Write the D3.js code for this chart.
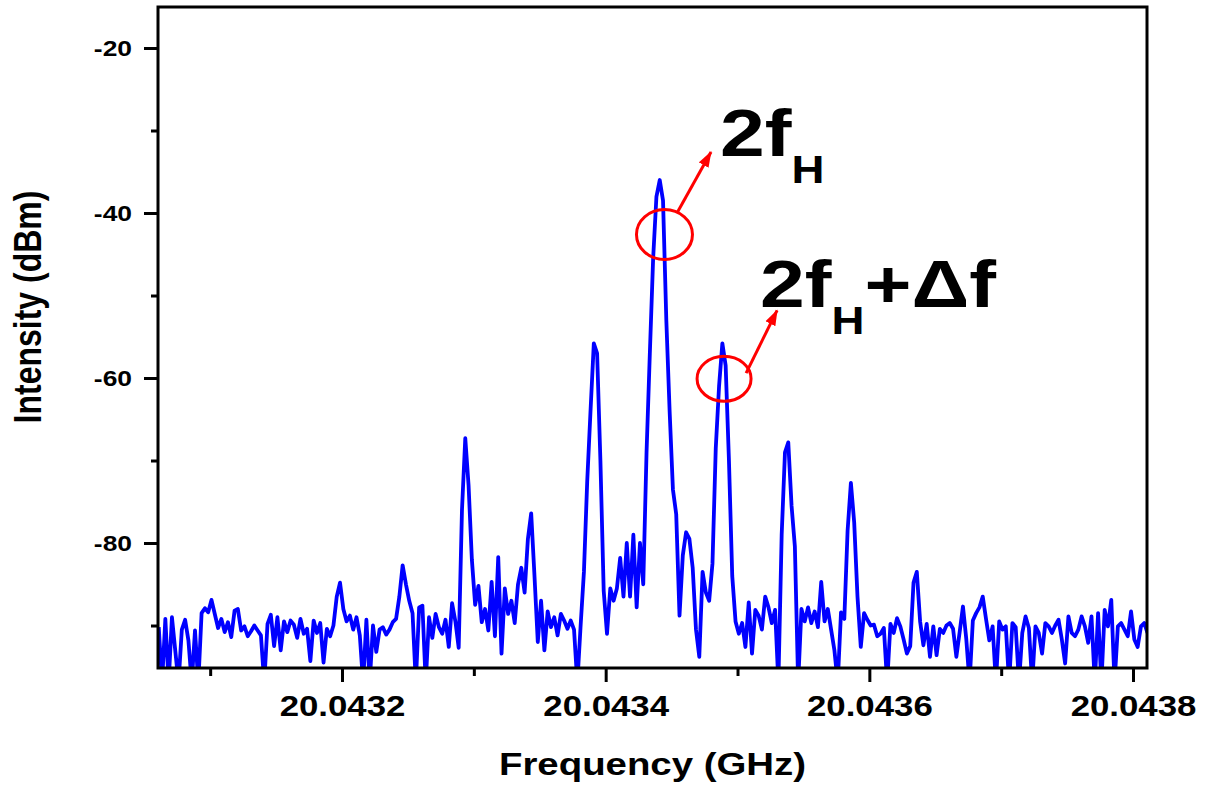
<!DOCTYPE html>
<html lang="en">
  <head>
    <meta charset="UTF-8" />
    <title>spectrum</title>
    <style>
      body {
        margin: 0;
        background: #fff;
      }
      svg {
        display: block;
      }
      text {
        font-family: "Liberation Sans", Arial, sans-serif;
        font-weight: bold;
        fill: #000;
      }
      .tick line {
        stroke: #000;
        stroke-width: 3;
      }
      .trace {
        fill: none;
        stroke: #0000ff;
        stroke-width: 3.8;
        stroke-linejoin: round;
      }
      .note {
        stroke: #ff0000;
        stroke-width: 3;
        fill: none;
      }
    </style>
    <script src="https://cdn.jsdelivr.net/npm/d3@7"></script>
  </head>
  <body>
    <div class="container"></div>
    <script>
      // sweep grid of the analyser (GHz)
      const sweepStart = 20.043061;
      const sweepStep = 0.0000025;

      const intensity = [
        -90.2, -97, -89.2, -97, -89.0, -93.0, -97, -90.5, -89.3, -91.8,
        -97, -90.6, -97, -88.5, -87.9, -88.4, -86.9, -88.6, -90.3, -89.2,
        -90.8, -89.6, -91.4, -88.2, -88.0, -90.6, -90.1, -91.3, -90.7, -90.0,
        -90.6, -91.2, -97, -89.8, -88.7, -92.5, -89.0, -93.0, -89.5, -90.8,
        -89.4, -89.9, -91.5, -89.2, -91.0, -90.4, -94.3, -89.4, -90.9, -89.7,
        -94.5, -90.4, -91.3, -90.0, -86.5, -84.8, -88.0, -89.5, -88.8, -90.5,
        -89.0, -91.2, -97, -89.3, -97, -90.0, -93.2, -90.5, -90.2, -91.1,
        -90.5, -89.6, -89.2, -86.5, -82.7, -85.0, -87.0, -88.5, -97, -87.8,
        -87.6, -97, -89.0, -91.5, -88.6, -90.2, -91.0, -89.3, -92.6, -87.3,
        -89.5, -92.7, -76.0, -67.3, -73.0, -82.0, -87.5, -85.2, -89.6, -88.0,
        -90.6, -84.7, -91.3, -81.7, -93.4, -85.5, -88.6, -87.0, -89.7, -85.0,
        -83.0, -86.0, -79.5, -76.4, -84.0, -92.0, -87.0, -93.0, -88.3, -90.2,
        -89.0, -91.2, -88.6, -89.4, -90.4, -89.4, -90.5, -97, -90.0, -83.5,
        -72.5, -64.0, -55.8, -57.0, -70.0, -85.8, -91.0, -85.5, -87.0, -85.5,
        -81.8, -86.5, -80.0, -86.5, -79.0, -87.8, -80.0, -85.0, -69.0, -57.0,
        -45.5, -38.0, -36.0, -38.5, -53.0, -64.0, -73.5, -76.5, -88.8, -81.5,
        -78.7, -79.5, -83.0, -90.5, -93.8, -83.5, -86.0, -87.0, -82.5, -68.5,
        -61.0, -55.8, -58.5, -70.0, -84.0, -89.5, -91.0, -89.7, -92.6, -87.2,
        -93.4, -88.1, -88.8, -90.5, -86.5, -87.8, -89.7, -88.1, -97, -79.0,
        -69.0, -67.8, -75.5, -80.4, -97, -88.0, -89.5, -87.8, -89.7, -88.3,
        -90.2, -84.7, -89.5, -88.0, -90.5, -93.0, -97, -88.4, -89.2, -78.5,
        -72.7, -77.5, -86.5, -92.6, -88.5, -89.3, -90.0, -89.9, -91.3, -91.0,
        -90.3, -97, -89.8, -90.9, -89.1, -90.1, -91.7, -93.4, -92.5, -84.8,
        -83.5, -89.5, -92.4, -89.8, -93.8, -90.1, -93.6, -90.4, -90.9, -90.0,
        -89.7, -90.4, -93.8, -90.8, -87.7, -91.6, -97, -89.4, -88.5, -87.8,
        -86.5, -89.2, -91.8, -90.1, -97, -89.5, -90.5, -90.1, -97, -89.7,
        -90.2, -97, -90.9, -88.9, -90.3, -97, -90.1, -90.9, -93.4, -89.7,
        -90.1, -90.9, -90.0, -89.3, -91.7, -94.6, -88.9, -90.9, -91.3, -90.5,
        -88.9, -90.1, -92.1, -88.9, -97, -88.5, -97, -88.1, -90.1, -86.9,
        -97, -90.1, -89.7, -90.5, -91.3, -88.3, -91.7, -92.6, -90.1, -89.7,
        -90.9,
      ];

      const xMajorTicks = [20.0432, 20.0434, 20.0436, 20.0438];
      const xMinorTicks = [20.0431, 20.0433, 20.0435, 20.0437];
      const yMajorTicks = [-20, -40, -60, -80];
      const yMinorTicks = [-30, -50, -70, -90];

      // annotations in data coordinates (GHz, dBm)
      const rings = [
        { f: 20.0434446, v: -42.6, rx: 28, ry: 25 },
        { f: 20.0434898, v: -60.1, rx: 27, ry: 22.5 },
      ];
      const arrows = [
        { f0: 20.0434541, v0: -40.0, f1: 20.0434799, v1: -32.6 },
        { f0: 20.0435065, v0: -59.4, f1: 20.04353, v1: -51.8 },
      ];
      const labels = [
        { f: 20.0434867, v: -33.1, main: "2f", sub: "H", tail: "" },
        { f: 20.0435171, v: -51.4, main: "2f", sub: "H", tail: "+\u0394f" },
      ];

      function init() {
        const width = 1209,
          height = 787;
        const left = 158,
          right = 1147,
          top = 7,
          bottom = 668;
        const stretch = 1.2;

        const data = intensity.map((v, i) => ({
          f: sweepStart + i * sweepStep,
          v: v,
        }));

        const x = d3
          .scaleLinear()
          .domain([20.04306043, 20.0438106])
          .range([left, right]);
        const y = d3.scaleLinear().domain([-95.15, -15.03]).range([bottom, top]);

        const svg = d3
          .select(".container")
          .append("svg")
          .attr("width", width)
          .attr("height", height);

        svg
          .append("rect")
          .attr("width", width)
          .attr("height", height)
          .attr("fill", "#fff");

        svg
          .append("defs")
          .append("clipPath")
          .attr("id", "plot-clip")
          .append("rect")
          .attr("x", left)
          .attr("y", top)
          .attr("width", right - left)
          .attr("height", bottom - top);

        const marker = svg
          .select("defs")
          .append("marker")
          .attr("id", "head")
          .attr("markerUnits", "userSpaceOnUse")
          .attr("viewBox", "0 -6 16 12")
          .attr("refX", 15)
          .attr("refY", 0)
          .attr("markerWidth", 16)
          .attr("markerHeight", 12)
          .attr("orient", "auto");
        marker.append("path").attr("d", "M0,-5.5L16,0L0,5.5Z").attr("fill", "#ff0000");

        // axes
        const xAxis = svg
          .append("g")
          .attr("transform", "translate(0," + bottom + ")")
          .call(
            d3
              .axisBottom(x)
              .tickValues(xMajorTicks)
              .tickSize(14)
              .tickPadding(13)
              .tickFormat(d3.format(".4f"))
          );
        xAxis.select(".domain").remove();
        xAxis
          .selectAll("text")
          .style("font-size", "29px")
          .attr("transform", "scale(" + stretch + ",1)");

        const xMinor = svg
          .append("g")
          .attr("transform", "translate(0," + bottom + ")")
          .call(d3.axisBottom(x).tickValues(xMinorTicks).tickSize(8).tickFormat(""));
        xMinor.select(".domain").remove();

        const yAxis = svg
          .append("g")
          .attr("transform", "translate(" + left + ",0)")
          .call(
            d3
              .axisLeft(y)
              .tickValues(yMajorTicks)
              .tickSize(14)
              .tickFormat((d) => String(d))
          );
        yAxis.select(".domain").remove();
        yAxis
          .selectAll("text")
          .style("font-size", "22px")
          .attr("x", -26 / stretch)
          .attr("transform", "scale(" + stretch + ",1)");

        const yMinor = svg
          .append("g")
          .attr("transform", "translate(" + left + ",0)")
          .call(d3.axisLeft(y).tickValues(yMinorTicks).tickSize(7).tickFormat(""));
        yMinor.select(".domain").remove();

        // trace
        const line = d3
          .line()
          .x((d) => x(d.f))
          .y((d) => y(d.v));

        svg
          .append("path")
          .datum(data)
          .attr("class", "trace")
          .attr("clip-path", "url(#plot-clip)")
          .attr("d", line);

        // frame
        svg
          .append("rect")
          .attr("x", left)
          .attr("y", top)
          .attr("width", right - left)
          .attr("height", bottom - top)
          .attr("fill", "none")
          .attr("stroke", "#000")
          .attr("stroke-width", 3);

        // axis titles
        svg
          .append("text")
          .attr("transform", "translate(" + (left + right) / 2 + ",775) scale(" + stretch + ",1)")
          .attr("text-anchor", "middle")
          .style("font-size", "32px")
          .text("Frequency (GHz)");

        svg
          .append("text")
          .attr("transform", "translate(41,307) scale(" + stretch + ",1) rotate(-90)")
          .attr("text-anchor", "middle")
          .style("font-size", "32px")
          .text("Intensity (dBm)");

        // annotations
        svg
          .selectAll(".ring")
          .data(rings)
          .enter()
          .append("ellipse")
          .attr("class", "note")
          .attr("cx", (d) => x(d.f))
          .attr("cy", (d) => y(d.v))
          .attr("rx", (d) => d.rx)
          .attr("ry", (d) => d.ry);

        svg
          .selectAll(".arrow")
          .data(arrows)
          .enter()
          .append("line")
          .attr("class", "note")
          .attr("x1", (d) => x(d.f0))
          .attr("y1", (d) => y(d.v0))
          .attr("x2", (d) => x(d.f1))
          .attr("y2", (d) => y(d.v1))
          .attr("marker-end", "url(#head)");

        const label = svg
          .selectAll(".label")
          .data(labels)
          .enter()
          .append("text")
          .attr("transform", (d) => "translate(" + x(d.f) + "," + y(d.v) + ") scale(" + stretch + ",1)")
          .style("font-size", "67px");
        label.append("tspan").text((d) => d.main);
        label
          .append("tspan")
          .attr("dy", 27)
          .style("font-size", "38px")
          .text((d) => d.sub);
        label
          .append("tspan")
          .attr("dy", -27)
          .text((d) => d.tail);
      }
      init();
    </script>
  </body>
</html>
